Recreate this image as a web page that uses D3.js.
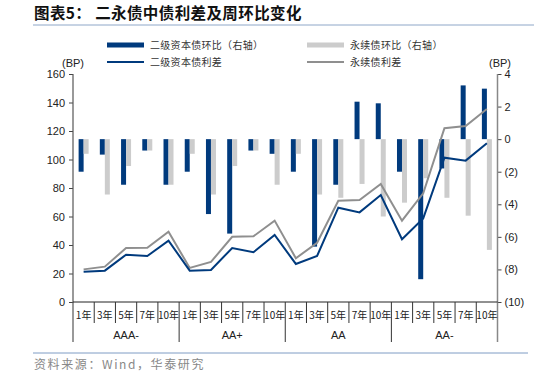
<!DOCTYPE html>
<html>
<head>
<meta charset="utf-8">
<title>二永债中债利差及周环比变化</title>
<style>
  * { margin: 0; padding: 0 }
  html, body { width: 534px; height: 377px; background: #fff; overflow: hidden; }
  svg text { font-family: "Liberation Sans", Arial, sans-serif; }
  .cjk { font-family: "Noto Sans CJK SC", sans-serif; }
</style>
</head>
<body>
<svg id="chart" width="534" height="377"></svg>
<script src="https://cdn.jsdelivr.net/npm/d3@7"></script>
<script>
// 数据
const terms = ["1年", "3年", "5年", "7年", "10年"];
const ratings = ["AAA-", "AA+", "AA", "AA-"];
// 二级资本债环比（右轴）
const tier2Chg = [-2.0, -0.95, -2.8, -0.7, -2.8, -2.0, -4.6, -5.8, -0.7, -0.9,
                  -2.0, -6.6, -2.8, 2.3, 2.2, -2.0, -8.6, -1.8, 3.3, 3.1];
// 永续债环比（右轴）
const perpChg = [-0.9, -3.4, -1.65, -0.7, -2.8, -0.9, -3.4, -1.65, -0.7, -2.8,
                 -0.9, -3.4, -3.6, -2.75, -4.75, -3.9, -2.4, -3.6, -4.7, -6.8];
// 二级资本债利差
const tier2Spread = [21.3, 22.0, 33.2, 32.3, 43.0, 22.0, 22.5, 37.9, 34.9, 47.0,
                     26.7, 32.3, 66.2, 62.9, 75.1, 44.0, 58.7, 101.3, 99.2, 111.4];
// 永续债利差
const perpSpread = [22.9, 24.8, 37.9, 38.1, 49.3, 23.9, 28.1, 45.8, 46.1, 57.1,
                    30.7, 41.6, 71.1, 71.6, 82.8, 57.1, 76.3, 121.9, 123.5, 135.4];
const leftTicks = [0, 20, 40, 60, 80, 100, 120, 140, 160];
const rightTicks = [-10, -8, -6, -4, -2, 0, 2, 4];

const navy = "#003a7d";
const greyBar = "#cccccc";
const greyLine = "#8f8f8f";

const svg = d3.select("#chart");
const plot = { left: 73, right: 497.5, top: 74, bottom: 302 };

const cats = [];
ratings.forEach(r => terms.forEach(t => cats.push(r + "|" + t)));

const x = d3.scaleBand().domain(cats).range([plot.left, plot.right]);
const yL = d3.scaleLinear().domain([0, 160]).range([plot.bottom, plot.top]);
const yR = d3.scaleLinear().domain([-10, 4]).range([plot.bottom, plot.top]);
const bw = 5;

// 标题
svg.append("text").attr("class", "cjk").attr("x", 34).attr("y", 19)
  .attr("font-size", 15.5).attr("font-weight", "bold").attr("fill", "#111")
  .attr("letter-spacing", 0.4)
  .text("图表5：  二永债中债利差及周环比变化");
svg.append("line").attr("x1", 33).attr("x2", 534).attr("y1", 25).attr("y2", 25)
  .attr("stroke", "#8ea7c8").attr("stroke-width", 1);

// 图例
const legend = [
  { x: 107, y: 45, type: "bar", color: navy, label: "二级资本债环比（右轴）" },
  { x: 307, y: 45, type: "bar", color: greyBar, label: "永续债环比（右轴）" },
  { x: 107, y: 62, type: "line", color: navy, label: "二级资本债利差" },
  { x: 307, y: 62, type: "line", color: greyLine, label: "永续债利差" }
];
legend.forEach(d => {
  svg.append("line").attr("x1", d.x).attr("x2", d.x + 37).attr("y1", d.y).attr("y2", d.y)
    .attr("stroke", d.color).attr("stroke-width", d.type === "bar" ? 5 : 2);
  svg.append("text").attr("class", "cjk").attr("x", d.x + 43).attr("y", d.y + 4)
    .attr("font-size", 10).attr("fill", "#333").attr("letter-spacing", 0.3).text(d.label);
});
svg.append("text").attr("x", 62).attr("y", 67).attr("font-size", 11).attr("fill", "#222").text("(BP)");
svg.append("text").attr("x", 489).attr("y", 67).attr("font-size", 11).attr("fill", "#222").text("(BP)");

// 柱
const g = svg.append("g");
g.selectAll("rect.t2").data(tier2Chg).join("rect")
  .attr("x", (d, i) => x(cats[i]) + x.bandwidth() / 2 - bw)
  .attr("y", d => yR(Math.max(0, d)))
  .attr("width", bw)
  .attr("height", d => Math.abs(yR(d) - yR(0)))
  .attr("fill", navy);
g.selectAll("rect.pp").data(perpChg).join("rect")
  .attr("x", (d, i) => x(cats[i]) + x.bandwidth() / 2)
  .attr("y", d => yR(Math.max(0, d)))
  .attr("width", bw)
  .attr("height", d => Math.abs(yR(d) - yR(0)))
  .attr("fill", greyBar);

// 线
const line = d3.line().x((d, i) => x(cats[i]) + x.bandwidth() / 2).y(d => yL(d));
svg.append("path").datum(perpSpread).attr("d", line)
  .attr("fill", "none").attr("stroke", greyLine).attr("stroke-width", 2);
svg.append("path").datum(tier2Spread).attr("d", line)
  .attr("fill", "none").attr("stroke", navy).attr("stroke-width", 2);

// 左轴
const axL = svg.append("g").attr("transform", `translate(${plot.left},0)`)
  .call(d3.axisLeft(yL).tickValues(leftTicks).tickSize(4).tickPadding(4));
axL.select(".domain").remove();
axL.selectAll("line").attr("stroke", "#444");
axL.selectAll("text").attr("font-size", 11).attr("fill", "#222")
  .attr("font-family", "Liberation Sans, Arial, sans-serif");
svg.append("line").attr("x1", plot.left).attr("x2", plot.left)
  .attr("y1", plot.top).attr("y2", 342).attr("stroke", "#555").attr("stroke-width", 1.2);

// 右轴
const fmt = v => v < 0 ? "(" + Math.abs(v) + ")" : String(v);
const axR = svg.append("g").attr("transform", `translate(${plot.right},0)`)
  .call(d3.axisRight(yR).tickValues(rightTicks).tickFormat(fmt).tickSize(4).tickPadding(3));
axR.select(".domain").remove();
axR.selectAll("line").attr("stroke", "#444");
axR.selectAll("text").attr("font-size", 11).attr("fill", "#222")
  .attr("font-family", "Liberation Sans, Arial, sans-serif");
svg.append("line").attr("x1", plot.right).attr("x2", plot.right)
  .attr("y1", plot.top).attr("y2", 342).attr("stroke", "#888").attr("stroke-width", 1.5);

// 横轴
svg.append("line").attr("x1", plot.left).attr("x2", plot.right)
  .attr("y1", plot.bottom).attr("y2", plot.bottom).attr("stroke", "#222").attr("stroke-width", 1);
cats.forEach((c, i) => {
  const x0 = x(c);
  if (i > 0) {
    const groupEdge = i % terms.length === 0;
    svg.append("line").attr("x1", x0).attr("x2", x0)
      .attr("y1", plot.bottom).attr("y2", groupEdge ? 342 : 323)
      .attr("stroke", "#333").attr("stroke-width", 1);
  }
  svg.append("text").attr("class", "cjk").attr("x", x0 + x.bandwidth() / 2).attr("y", 319)
    .attr("text-anchor", "middle").attr("font-size", 10).attr("fill", "#222")
    .text(c.split("|")[1]);
});
ratings.forEach((r, k) => {
  const xs = x(r + "|" + terms[0]);
  const xe = x(r + "|" + terms[terms.length - 1]) + x.bandwidth();
  svg.append("text").attr("x", (xs + xe) / 2).attr("y", 339)
    .attr("text-anchor", "middle").attr("font-size", 11).attr("fill", "#222").text(r);
});

// 底部
svg.append("line").attr("x1", 33).attr("x2", 528).attr("y1", 353).attr("y2", 353)
  .attr("stroke", "#7f9cc4").attr("stroke-width", 1);
svg.append("text").attr("class", "cjk").attr("x", 34).attr("y", 369)
  .attr("font-size", 12).attr("fill", "#888").attr("letter-spacing", 1.6)
  .text("资料来源：Wind，华泰研究");
</script>
</body>
</html>
